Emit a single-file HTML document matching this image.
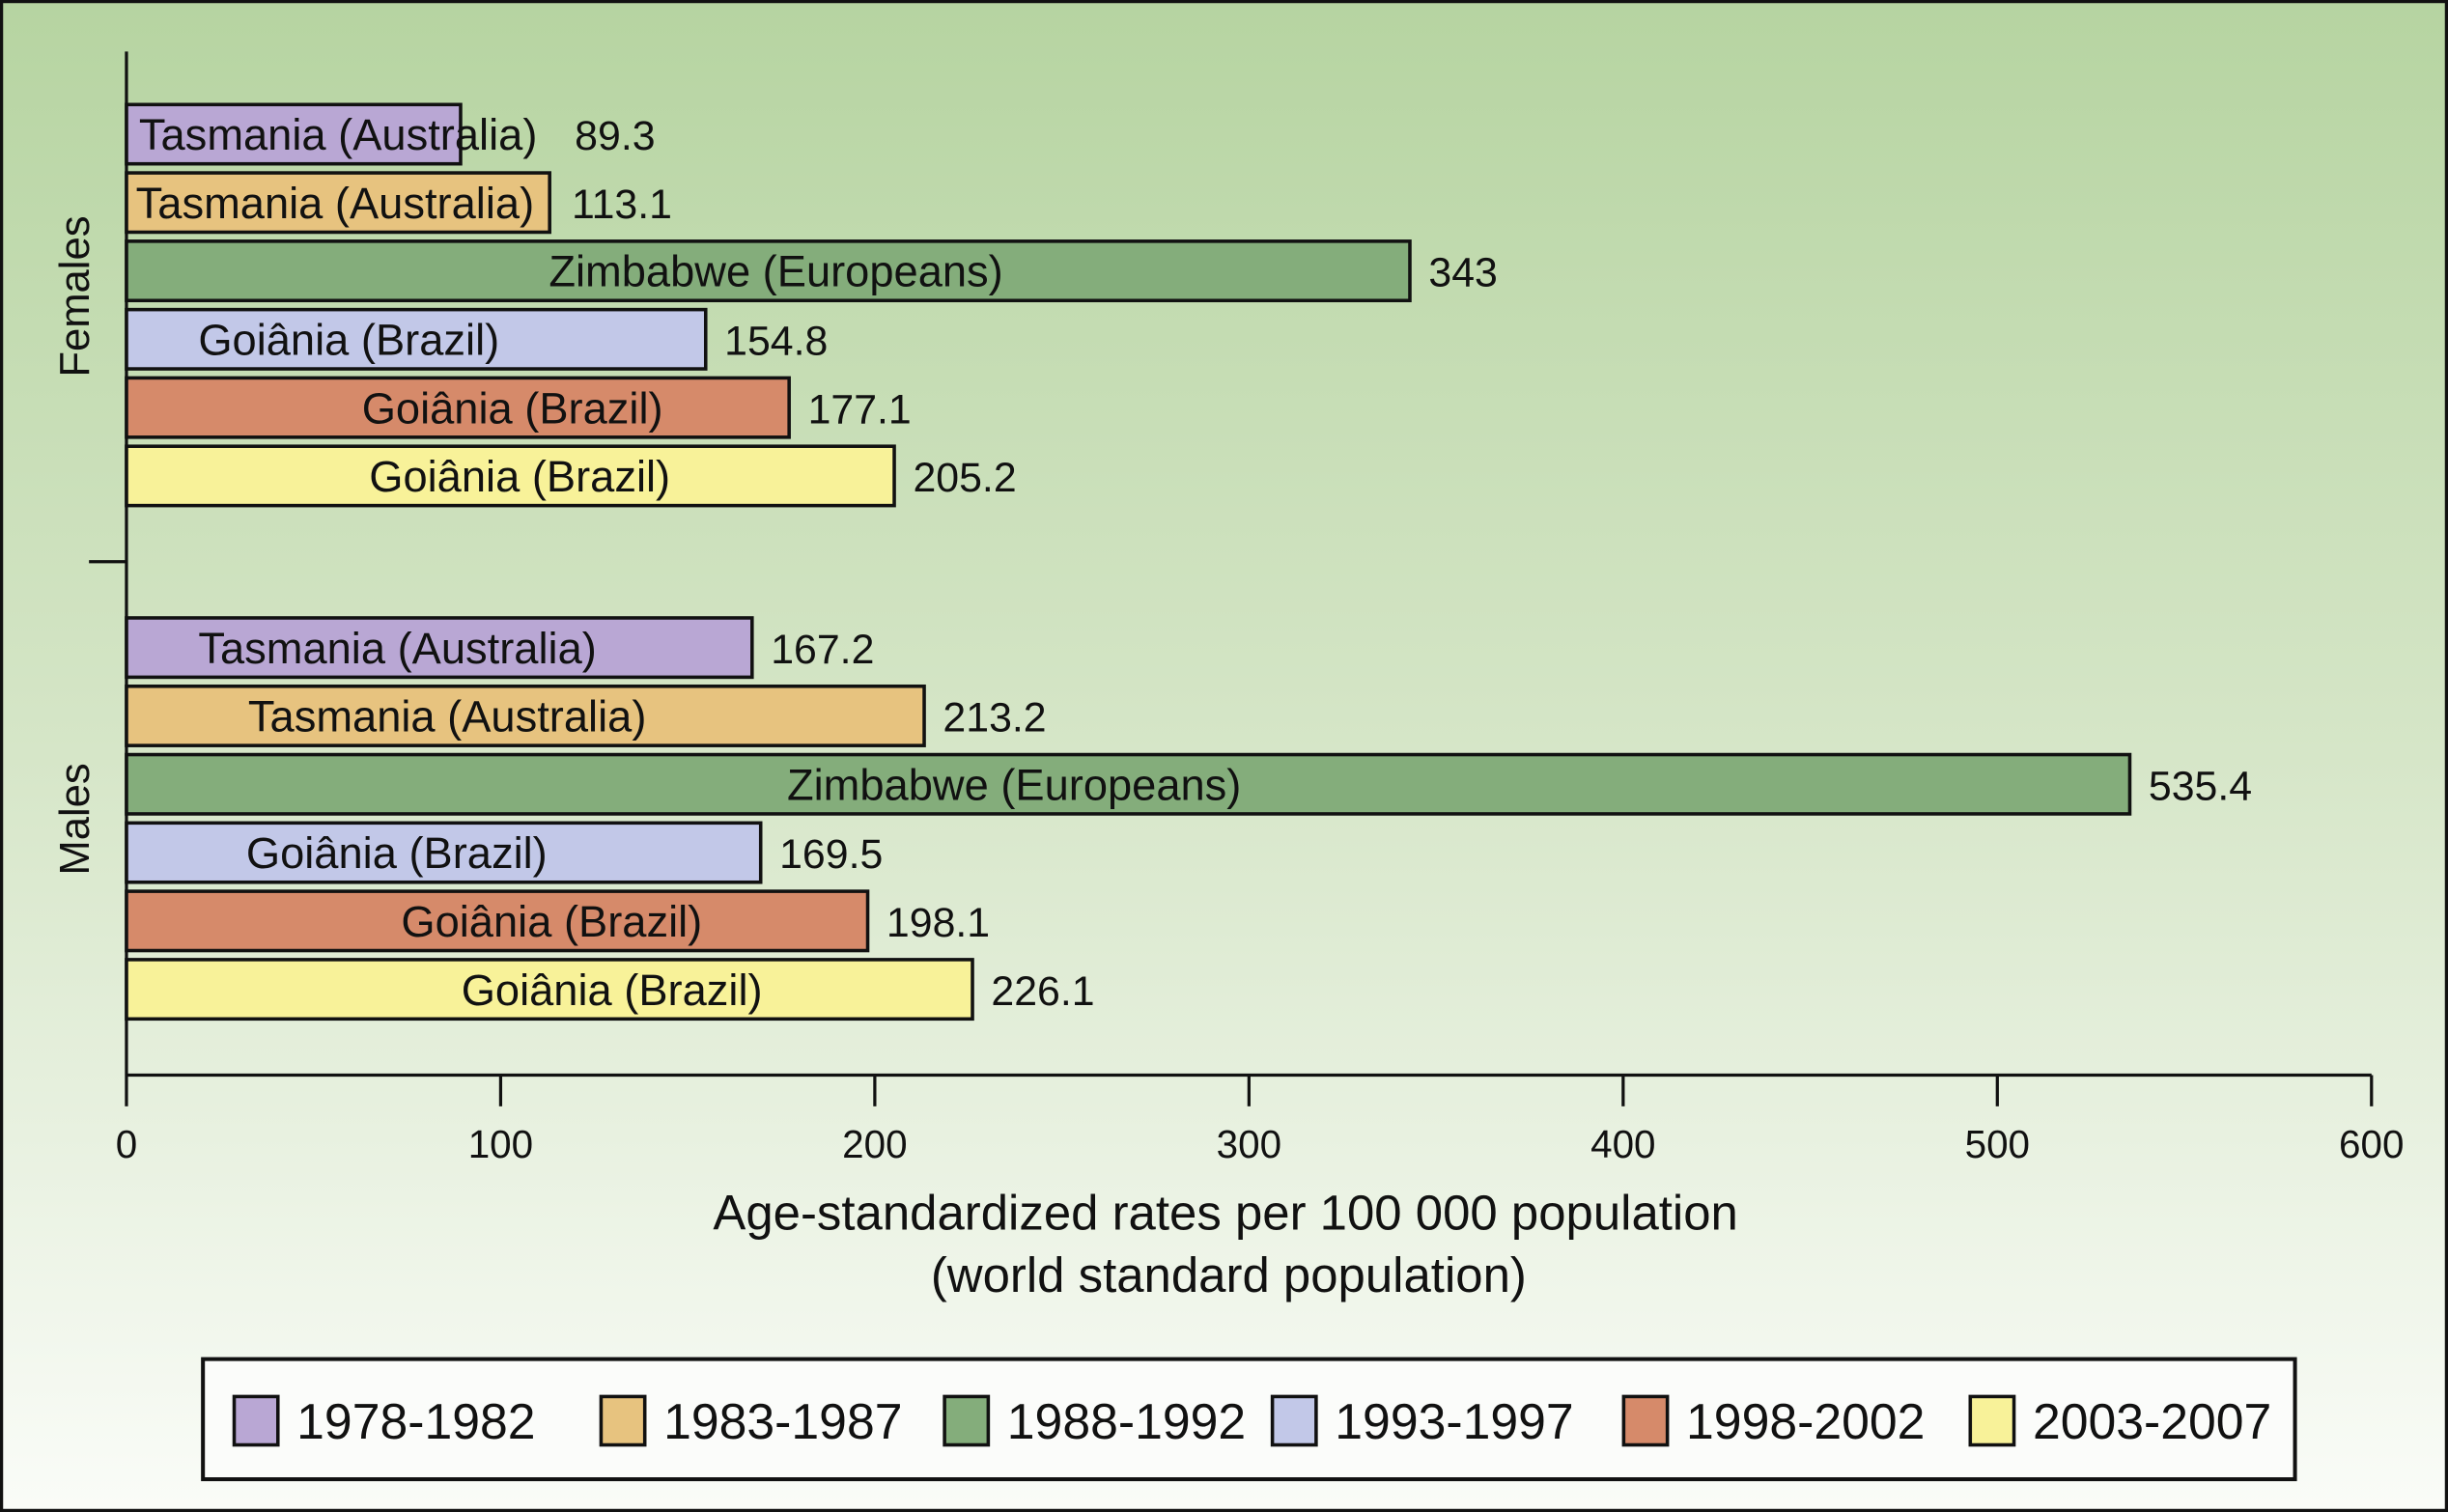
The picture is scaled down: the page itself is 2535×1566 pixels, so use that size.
<!DOCTYPE html>
<html><head><meta charset="utf-8"><style>
html,body{margin:0;padding:0;background:#fff}
svg{display:block}
text{font-family:"Liberation Sans",Arial,sans-serif;fill:#111}
</style></head><body>
<svg id="chart" width="2535" height="1566" viewBox="0 0 1568 969" preserveAspectRatio="none" xmlns="http://www.w3.org/2000/svg">
<defs><linearGradient id="bg" x1="0" y1="0" x2="0" y2="1">
<stop offset="0" stop-color="#b6d4a1"/><stop offset="0.5" stop-color="#d6e6c8"/><stop offset="1" stop-color="#fafcf8"/></linearGradient></defs>
<rect x="1" y="1" width="1566" height="967" fill="url(#bg)" stroke="#111" stroke-width="2"/>
<g id="bars"></g>
<g id="axes"></g>
<g id="legend"></g>
</svg>
<script>
const periods = ["1978-1982","1983-1987","1988-1992","1993-1997","1998-2002","2003-2007"];
const colors = ["#b9a7d4","#e7c37f","#84ad7b","#c2c8e8","#d68a6a","#f8f299"];
const femaleValues = [89.3,113.1,343,154.8,177.1,205.2];
const maleValues = [167.2,213.2,535.4,169.5,198.1,226.1];
const femaleLabels = ["Tasmania (Australia)","Tasmania (Australia)","Zimbabwe (Europeans)","Goiânia (Brazil)","Goiânia (Brazil)","Goiânia (Brazil)"];
const maleLabels = ["Tasmania (Australia)","Tasmania (Australia)","Zimbabwe (Europeans)","Goiânia (Brazil)","Goiânia (Brazil)","Goiânia (Brazil)"];
const xTicks = [0,100,200,300,400,500,600];

const NS="http://www.w3.org/2000/svg";
const X0=81, X1=1519, XMAX=600;
function xs(v){return X0+(X1-X0)*v/XMAX;}
function mk(tag,attrs,parent){const e=document.createElementNS(NS,tag);for(const k in attrs)e.setAttribute(k,attrs[k]);parent.appendChild(e);return e;}
const bars=document.getElementById('bars'), axes=document.getElementById('axes'), legend=document.getElementById('legend');
const femaleLabelAnchor=[["start",89],["start",87],["mid",5],["start",127],["mid",35],["mid",6]];
const maleLabelAnchor=[["start",127],["mid",-50],["mid",-73],["mid",-30],["mid",35],["mid",40]];
function drawGroup(vals,labels,anch,top,grp){
  const pitch=43.8,h=38;
  vals.forEach((v,i)=>{
    const y=top+i*pitch, xe=xs(v);
    const r=mk('rect',{x:X0,y:y,width:xe-X0,height:h,fill:colors[i],stroke:"#111","stroke-width":2.2},bars);
    
    
    let t;
    if(anch[i][0]==="start"){t=mk('text',{x:anch[i][1],y:y+h/2+10,"font-size":28},bars);}
    else{t=mk('text',{x:(X0+xe)/2+anch[i][1],y:y+h/2+10,"font-size":28,"text-anchor":"middle"},bars);}
    t.textContent=labels[i];
    
    
    let le=xe;
    try{const bb=t.getBBox();le=Math.max(xe,bb.x+bb.width+12);}catch(e){}
    const vt=mk('text',{x:le+12,y:y+h/2+10,"font-size":26.5},bars);
    vt.textContent=String(v);
    
    
  });
}
drawGroup(femaleValues,femaleLabels,femaleLabelAnchor,67,'females');
drawGroup(maleValues,maleLabels,maleLabelAnchor,396,'males');

const ya=mk('line',{x1:X0,y1:33,x2:X0,y2:689,stroke:"#111","stroke-width":2},axes);

const yt=mk('line',{x1:57,y1:360,x2:X0,y2:360,stroke:"#111","stroke-width":2},axes);

const xa=mk('line',{x1:X0,y1:689,x2:X1,y2:689,stroke:"#111","stroke-width":2},axes);

xTicks.forEach(v=>{
  const l=mk('line',{x1:xs(v),y1:689,x2:xs(v),y2:709,stroke:"#111","stroke-width":2},axes);
  
  const t=mk('text',{x:xs(v),y:742,"font-size":25,"text-anchor":"middle"},axes);
  t.textContent=v;
  
});
const g1=mk('text',{x:0,y:0,"font-size":27,"text-anchor":"middle",transform:"translate(57,190) rotate(-90)"},axes);
g1.textContent="Females";
const g2=mk('text',{x:0,y:0,"font-size":27,"text-anchor":"middle",transform:"translate(57,525) rotate(-90)"},axes);
g2.textContent="Males";
const t1=mk('text',{x:785,y:788,"font-size":31.5,"text-anchor":"middle"},axes);
t1.textContent="Age-standardized rates per 100 000 population";
const t2=mk('text',{x:787,y:828,"font-size":31.5,"text-anchor":"middle"},axes);
t2.textContent="(world standard population)";

const lb=mk('rect',{x:130,y:871,width:1340,height:77,fill:"#fbfcfa",stroke:"#111","stroke-width":2.5},legend);

const legX=[150,385,605,815,1040,1262];
periods.forEach((p,i)=>{
  const s=mk('rect',{x:legX[i],y:895,width:28,height:31,fill:colors[i],stroke:"#111","stroke-width":2.2},legend);
  
  const t=mk('text',{x:legX[i]+40,y:922,"font-size":32},legend);
  t.textContent=p;
  
});
</script>
</body></html>
